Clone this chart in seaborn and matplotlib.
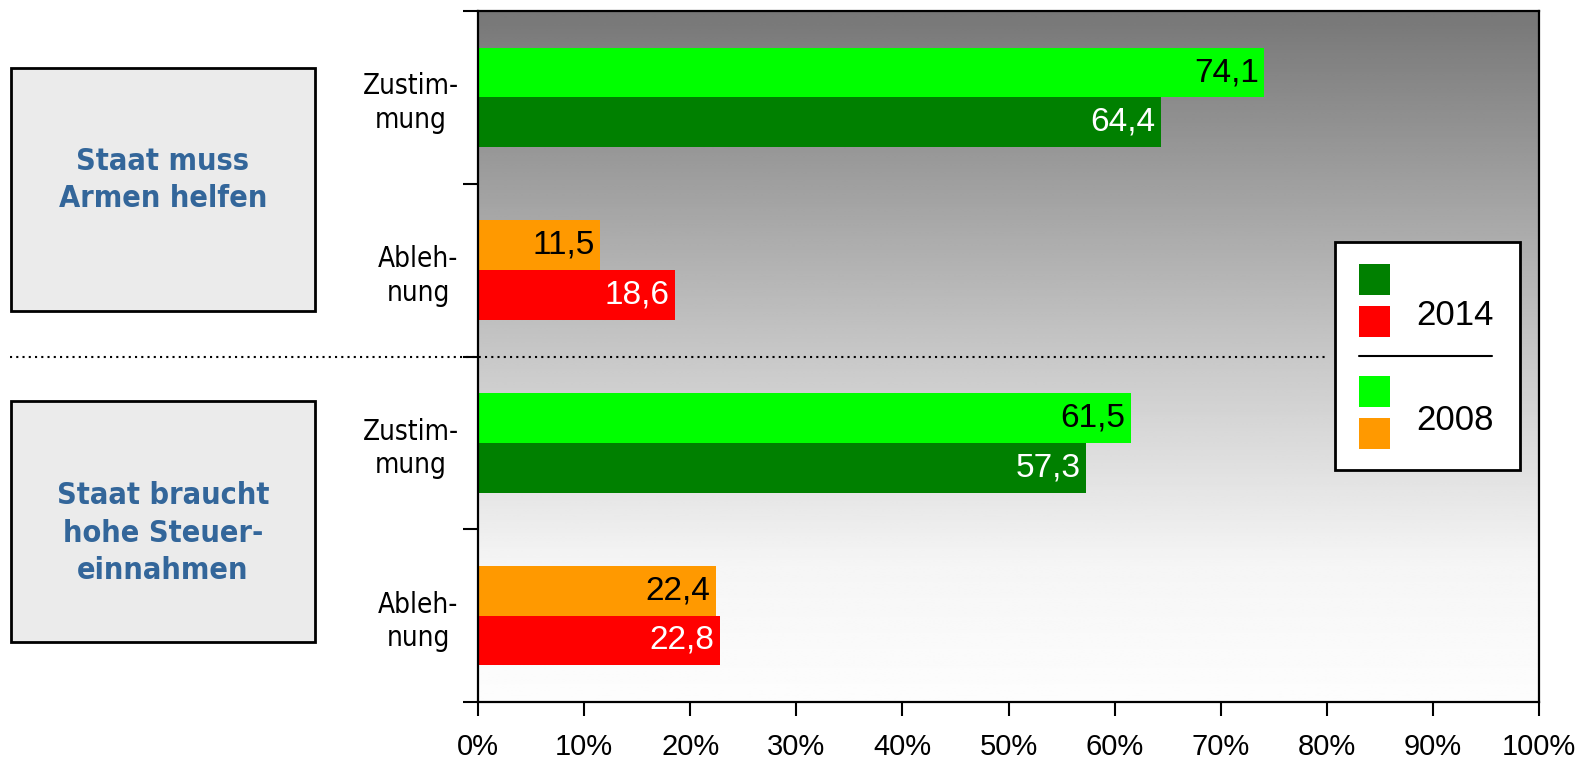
import numpy as np
import pandas as pd
import matplotlib
matplotlib.use("Agg")
import matplotlib.pyplot as plt
import matplotlib.transforms as mtransforms
from matplotlib.patches import Rectangle
from matplotlib.lines import Line2D
import seaborn as sns

# ---------------- data ----------------
categories = ["Zustimmung_A", "Ablehnung_A", "Zustimmung_B", "Ablehnung_B"]
cat_labels = ["Zustim-\nmung", "Ableh-\nnung", "Zustim-\nmung", "Ableh-\nnung"]
years = ["2008", "2014"]
values_2008 = [74.1, 11.5, 61.5, 22.4]
values_2014 = [64.4, 18.6, 57.3, 22.8]
colors_2008 = ["#00FF00", "#FF9900", "#00FF00", "#FF9900"]
colors_2014 = ["#008000", "#FF0000", "#008000", "#FF0000"]
label_colors = {"2008": "black", "2014": "white"}
group_titles = ["Staat muss\nArmen helfen", "Staat braucht\nhohe Steuer-\neinnahmen"]
x_ticks = [0, 10, 20, 30, 40, 50, 60, 70, 80, 90, 100]

df = pd.DataFrame({
    "cat": categories * 2,
    "year": ["2008"] * 4 + ["2014"] * 4,
    "value": values_2008 + values_2014,
})

W, H = 1579, 759
sns.set_style("white")
plt.rcParams["font.family"] = ["Liberation Sans", "DejaVu Sans"]
plt.rcParams["text.color"] = "black"
plt.rcParams["xtick.color"] = "black"
plt.rcParams["ytick.color"] = "black"
plt.rcParams["axes.labelcolor"] = "black"
fig = plt.figure(figsize=(W / 100, H / 100), dpi=100)

def fx(px):
    return px / W

def fy(py):
    return 1 - py / H

ax = fig.add_axes([fx(478), fy(702), fx(1539) - fx(478), fy(11) - fy(702)])

# gradient background
stops_pos = [0.0, 0.5, 0.8, 1.0]
stops_val = [119, 200, 245, 253]
g = np.interp(np.linspace(0, 1, 256), stops_pos, stops_val) / 255.0
grad = np.repeat(g[:, None], 2, axis=1)
ax.imshow(grad, cmap="gray", vmin=0, vmax=1, extent=[0, 1, 0, 1],
          transform=ax.transAxes, aspect="auto", zorder=0, interpolation="bilinear")

sns.barplot(data=df, y="cat", x="value", hue="year", hue_order=years,
            order=categories, orient="h", dodge=True, width=0.575,
            legend=False, ax=ax, zorder=2, saturation=1)

color_map = {"2008": colors_2008, "2014": colors_2014}
for yr, cont in zip(years, ax.containers):
    for i, bar in enumerate(cont):
        bar.set_facecolor(color_map[yr][i])
        bar.set_edgecolor("none")
        bar.set_zorder(2)
        w = bar.get_width()
        yc = bar.get_y() + bar.get_height() / 2
        ax.annotate(f"{w:.1f}".replace(".", ","), xy=(w, yc), xytext=(-4, 0),
                    textcoords="offset points", ha="right", va="center",
                    fontsize=24, color=label_colors[yr], zorder=3,
                    family=["Liberation Sans", "DejaVu Sans"])

ax.set_xlim(0, 100)
ax.set_ylim(3.5, -0.5)
ax.set_xlabel("")
ax.set_ylabel("")

ax.set_xticks(x_ticks)
ax.set_xticklabels([f"{t}%" for t in x_ticks], fontsize=21, color="black")
ax.tick_params(axis="x", length=10, width=1.5, direction="out", pad=12, color="black",
               bottom=True)

ax.set_yticks(np.arange(-0.5, len(categories), 1.0))
ax.set_yticklabels([])
ax.set_yticks(np.arange(len(categories)), minor=True)
ax.set_yticklabels(cat_labels, minor=True, fontsize=20, ha="right", color="black",
                   multialignment="center", family="DejaVu Sans", fontstretch="condensed")
ax.tick_params(axis="y", which="major", length=11, width=1.5, direction="out", left=True,
               color="black")
ax.tick_params(axis="y", which="minor", length=0, pad=14)
for t in ax.get_yticklabels(minor=True):
    t.set_linespacing(1.25)

for s in ax.spines.values():
    s.set_visible(True)
    s.set_color("black")
    s.set_linewidth(1.6)
    s.set_zorder(4)

# dotted separator between groups
trans = mtransforms.blended_transform_factory(fig.transFigure, ax.transData)
ax.add_line(Line2D([fx(10), fx(1327)], [1.5, 1.5], transform=trans, color="black",
                   lw=1.5, linestyle=(0, (1, 2)), clip_on=False, zorder=5))

# left group boxes
box_specs = [(11, 68, 315, 311, 180), (11, 401, 315, 642, 533)]
for (x0, y0, x1, y1, tyc), title in zip(box_specs, group_titles):
    fig.patches.append(Rectangle((fx(x0), fy(y1)), fx(x1) - fx(x0), fy(y0) - fy(y1),
                                 transform=fig.transFigure, facecolor="#EBEBEB",
                                 edgecolor="black", lw=2))
    fig.text(fx((x0 + x1) / 2), fy(tyc), title, ha="center", va="center",
             multialignment="center", fontsize=22, fontweight="bold", color="#33669A",
             family="DejaVu Sans", fontstretch="condensed", linespacing=1.35)

# legend box
fig.patches.append(Rectangle((fx(1335), fy(470)), fx(1520) - fx(1335), fy(242) - fy(470),
                             transform=fig.transFigure, facecolor="white",
                             edgecolor="black", lw=2, zorder=6))
leg_sq = [(264, colors_2014[0]), (306, colors_2014[1]), (376, colors_2008[0]), (418, colors_2008[1])]
for ytop, c in leg_sq:
    fig.patches.append(Rectangle((fx(1359), fy(ytop + 31)), fx(31), 31 / H,
                                 transform=fig.transFigure, facecolor=c,
                                 edgecolor="none", zorder=7))
fig.lines.append(Line2D([fx(1359), fx(1492)], [fy(356), fy(356)], transform=fig.transFigure,
                        color="black", lw=1.5, zorder=7))
fig.text(fx(1416), fy(315), years[1], ha="left", va="center", fontsize=25, zorder=8,
         color="black")
fig.text(fx(1416), fy(421), years[0], ha="left", va="center", fontsize=25, zorder=8,
         color="black")

fig.savefig("out.png", dpi=100)
